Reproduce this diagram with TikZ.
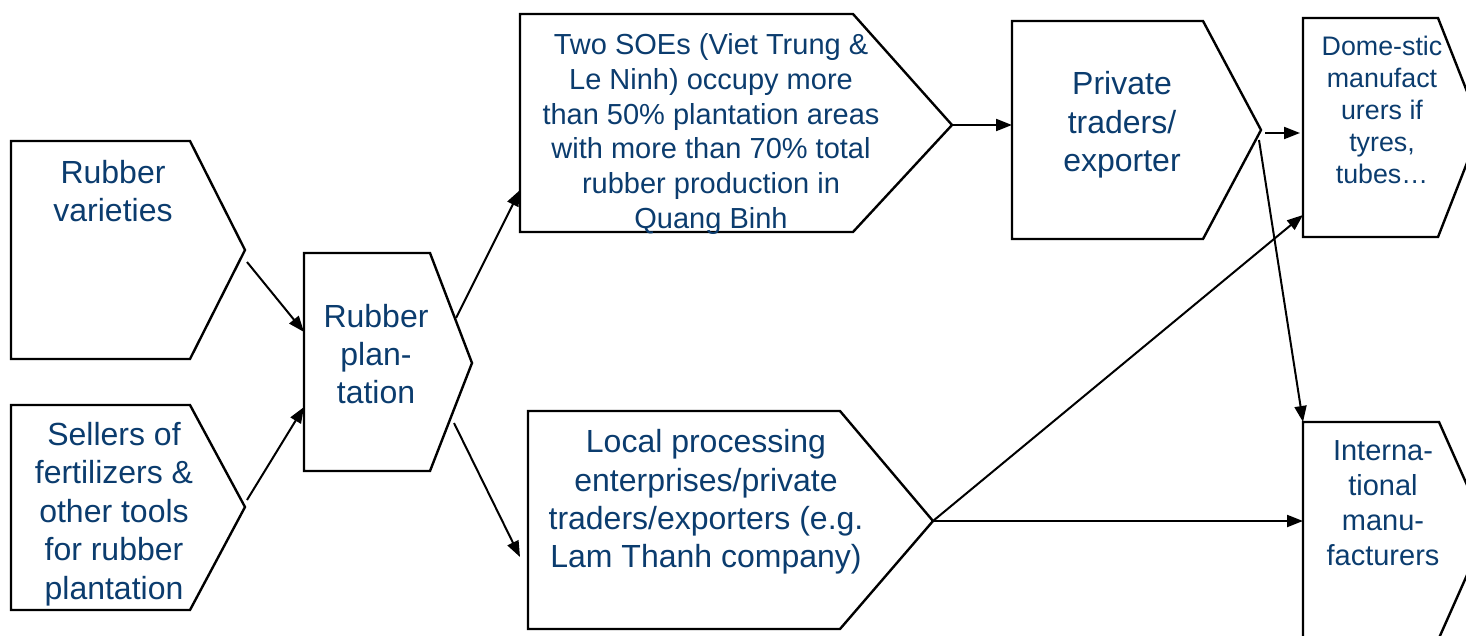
\documentclass[tikz,border=0pt]{standalone}
\usepackage{fontspec}
\setmainfont{Liberation Sans}
\usetikzlibrary{arrows.meta}
\definecolor{txtblue}{HTML}{0B3C6E}
\tikzset{
  box/.style={draw=black, line width=1.2pt, line join=miter},
  lbl/.style={text=txtblue, align=center, inner sep=0pt, font=\fontsize{16}{19.2}\selectfont},
  lblsmall/.style={lbl, font=\fontsize{14.5}{17.4}\selectfont},
  lbltiny/.style={lbl, font=\fontsize{13.4}{16}\selectfont},
  flow/.style={line width=1pt, -{Triangle[length=8pt,width=6pt]}}
}
\begin{document}
\begin{tikzpicture}[x=0.5pt,y=-0.5pt]
\useasboundingbox (0,0) rectangle (1466,636);
\clip (0,0) rectangle (1466,636);
% Boxes
\draw[box] (11,141) -- (190,141) -- (245,250) -- (190,359) -- (11,359) -- cycle;
\draw[box] (11,405) -- (190,405) -- (245,507) -- (190,610) -- (11,610) -- cycle;
\draw[box] (304,253) -- (430,253) -- (472,363) -- (430,471) -- (304,471) -- cycle;
\draw[box] (520,14) -- (853,14) -- (952,125) -- (853,232) -- (520,232) -- cycle;
\draw[box] (1012,21) -- (1203,21) -- (1261,130) -- (1203,239) -- (1012,239) -- cycle;
\draw[box] (1303,18) -- (1438,18) -- (1481,127) -- (1438,237) -- (1303,237) -- cycle;
\draw[box] (528,411) -- (840,411) -- (933,521) -- (840,629) -- (528,629) -- cycle;
\draw[box] (1303,422) -- (1439,422) -- (1487,530) -- (1439,638) -- (1303,638) -- cycle;
% Nodes
\node[lbl] (varieties) at (113,191) {Rubber\\varieties};
\node[lbl] (sellers) at (114,514) {Sellers of\\fertilizers \&\\other tools\\for rubber\\plantation};
\node[lbl] (plantation) at (376,354) {Rubber\\plan-\\tation};
\node[lblsmall] (soes) at (711,134) {Two SOEs (Viet Trung \&\\Le Ninh) occupy more\\than 50\% plantation areas\\with more than 70\% total\\rubber production in\\Quang Binh};
\node[lbl] (private) at (1122,125) {Private\\traders/\\exporter};
\node[lbltiny] (domestic) at (1382,110) {Dome-stic\\manufact\\urers if\\tyres,\\tubes…};
\node[lbl] (local) at (706,502) {Local processing\\enterprises/private\\traders/exporters (e.g.\\Lam Thanh company)};
\node[lblsmall] (intl) at (1383,503) {Interna-\\tional\\manu-\\facturers};
% Ends of the connectors
\coordinate (varieties-out) at (247,262);
\coordinate (sellers-out) at (247,500);
\coordinate (plantation-in1) at (304,332);
\coordinate (plantation-in2) at (304,407);
\coordinate (plantation-out1) at (456,318);
\coordinate (plantation-out2) at (454,423);
\coordinate (soes-in) at (520,190);
\coordinate (soes-tip) at (952,125);
\coordinate (local-in) at (520,557);
\coordinate (local-tip) at (933,521);
\coordinate (private-in) at (1012,125);
\coordinate (private-out) at (1265,133);
\coordinate (private-tip) at (1259,140);
\coordinate (domestic-in1) at (1300,133);
\coordinate (domestic-in2) at (1303,215);
\coordinate (intl-corner) at (1303,422);
\coordinate (intl-in) at (1303,521);
% Lines
\draw[flow] (varieties-out) -- (plantation-in1);
\draw[flow] (sellers-out) -- (plantation-in2);
\draw[flow] (plantation-out1) -- (soes-in);
\draw[flow] (plantation-out2) -- (local-in);
\draw[flow] (soes-tip) -- (private-in);
\draw[flow] (private-out) -- (domestic-in1);
\draw[flow] (private-tip) -- (intl-corner);
\draw[flow] (local-tip) -- (domestic-in2);
\draw[flow] (local-tip) -- (intl-in);
\end{tikzpicture}
\end{document}
